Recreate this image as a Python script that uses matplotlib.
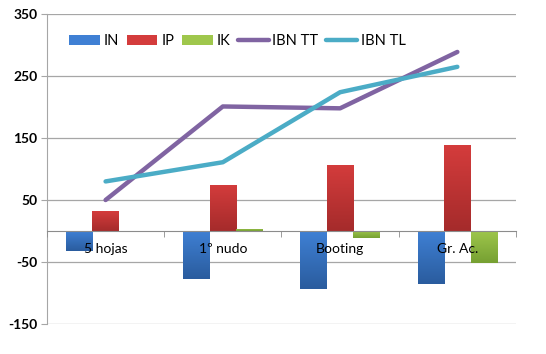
import matplotlib.pyplot as plt
import matplotlib.colors as mcolors
from matplotlib.patches import Patch
from matplotlib.lines import Line2D
import numpy as np

plt.rcParams['font.family'] = ['Lato', 'DejaVu Sans']

# datos
etapas = ['5 hojas', '1º nudo', 'Booting', 'Gr. Ac.']
IN = [-32, -78, -93, -85]
IP = [32, 75, 107, 138]
IK = [0, 4, -12, -52]
IBN_TT = [50, 201, 198, 289]
IBN_TL = [80, 111, 224, 265]
yticks = [-150, -50, 50, 150, 250, 350]

# colores (arriba, abajo) para el degradado
col_in = ('#3f80d4', '#2a5c9e')
col_ip = ('#d43c3c', '#a52b2b')
col_ik = ('#9fc74c', '#76a032')
col_tt = '#8064a2'
col_tl = '#4bacc6'

fig = plt.figure(figsize=(5.46, 3.54), dpi=100)
ax = fig.add_axes([0.086, 0.085, 0.859, 0.875])

x = np.arange(len(etapas))
w = 0.226


def barras_degradado(pos, vals, cols):
    bars = ax.bar(pos, vals, w, color=cols[0], zorder=3)
    cmap = mcolors.LinearSegmentedColormap.from_list('g', [cols[1], cols[0]])
    grad = np.linspace(0, 1, 64).reshape(-1, 1)
    for b in bars:
        x0, y0 = b.get_x(), b.get_y()
        bw, bh = b.get_width(), b.get_height()
        if bh == 0:
            continue
        lo, hi = min(y0, y0 + bh), max(y0, y0 + bh)
        im = ax.imshow(grad, cmap=cmap, origin='lower', aspect='auto',
                       extent=(x0, x0 + bw, lo, hi), zorder=3.1)
        im.set_clip_path(b)
    return bars


barras_degradado(x - w, IN, col_in)
barras_degradado(x, IP, col_ip)
barras_degradado(x + w, IK, col_ik)

ax.plot(x, IBN_TT, color=col_tt, lw=3.2, solid_capstyle='round',
        solid_joinstyle='round', zorder=5)
ax.plot(x, IBN_TL, color=col_tl, lw=3.2, solid_capstyle='round',
        solid_joinstyle='round', zorder=5)

ax.set_xlim(-0.5, len(etapas) - 0.5)
ax.set_ylim(-150, 350)
ax.set_yticks(yticks)
ax.set_yticklabels([str(v) for v in yticks], fontweight='bold', fontsize=10)
ax.yaxis.grid(True, color='#a6a6a6', lw=0.9)
ax.tick_params(axis='y', length=4, color='#a6a6a6', pad=3)

ax.set_xticks(x)
ax.set_xticklabels(etapas, fontsize=10.5)
ax.set_xticks(np.arange(-0.5, len(etapas)), minor=True)
ax.tick_params(axis='x', which='major', length=0, pad=9)
ax.tick_params(axis='x', which='minor', length=4, color='#8c8c8c', direction='out')

ax.spines['bottom'].set_position(('data', 0))
ax.spines['bottom'].set_color('#8c8c8c')
ax.spines['bottom'].set_zorder(4)
ax.spines['left'].set_color('#a6a6a6')
ax.spines['top'].set_visible(False)
ax.spines['right'].set_visible(False)
# rejilla detras, etiquetas de categoria encima de las barras
ax.yaxis.set_zorder(0.5)
ax.xaxis.set_zorder(6)

handles = [
    Patch(facecolor=col_in[0], label='IN'),
    Patch(facecolor=col_ip[0], label='IP'),
    Patch(facecolor=col_ik[0], label='IK'),
    Line2D([0], [0], color=col_tt, lw=3.2, solid_capstyle='round', label='IBN TT'),
    Line2D([0], [0], color=col_tl, lw=3.2, solid_capstyle='round', label='IBN TL'),
]
ax.legend(handles=handles, loc='center left', bbox_to_anchor=(0.035, 0.913),
          ncol=5, frameon=False, fontsize=10.5, handlelength=2.1, handleheight=0.6,
          handletextpad=0.25, columnspacing=0.55, borderaxespad=0)

fig.savefig('out.png', dpi=100)
